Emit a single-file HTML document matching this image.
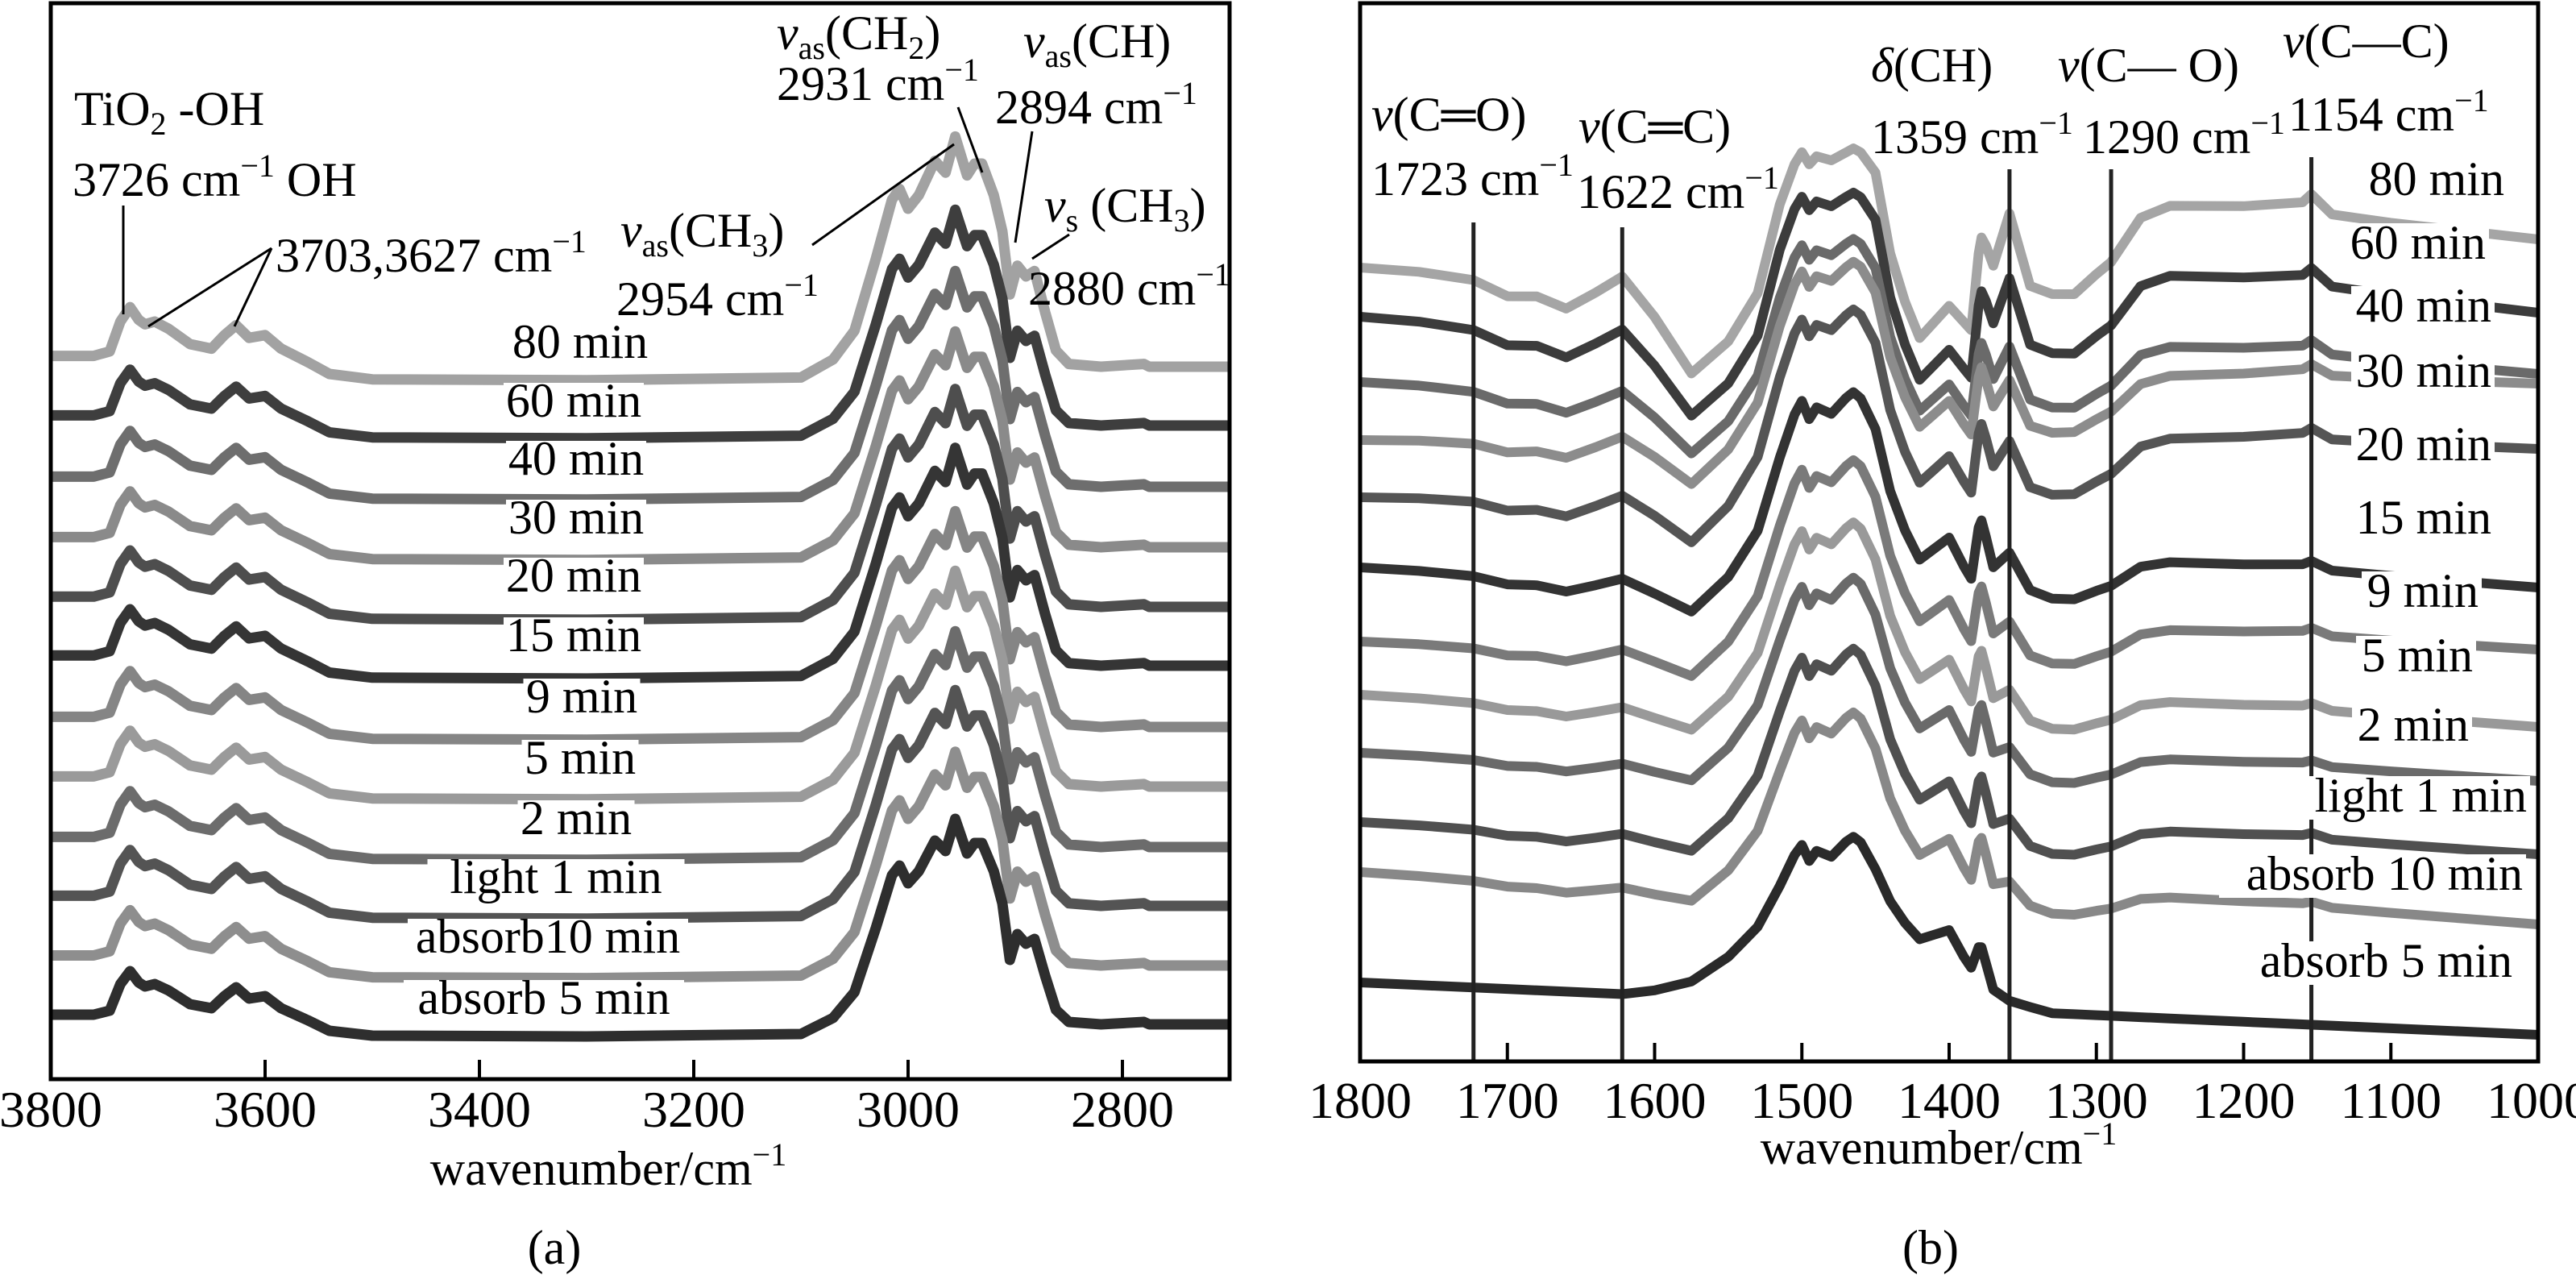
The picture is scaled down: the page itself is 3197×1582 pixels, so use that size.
<!DOCTYPE html>
<html><head><meta charset="utf-8"><style>
html,body{margin:0;padding:0;background:#fff;font-family:"Liberation Serif","DejaVu Serif",serif;}
svg{display:block;}
svg text, svg tspan{font-family:"Liberation Serif","DejaVu Serif",serif !important;fill:#000;}
</style></head><body>
<svg id="fig" xmlns="http://www.w3.org/2000/svg" width="3197" height="1582" viewBox="0 0 3197 1582">
<rect width="3197" height="1582" fill="#fff"/>
<g id="pa"></g>
<g id="pb"></g>
</svg>
<script>
// ---------- Panel A data ----------
const aSeries = ["80 min","60 min","40 min","30 min","20 min","15 min","9 min","5 min","2 min","light 1 min","absorb10 min","absorb 5 min"];
const aBaseline = [455,528,604,679,753,826,902,976,1051,1124,1198,1271];
const aScale = [1.12,1.05,1.05,1.05,1.06,1.06,1.05,1.05,1.05,1.05,1.04,1.0];
const aColors = ["#a2a2a2","#3e3e3e","#6e6e6e","#8a8a8a","#4e4e4e","#353535","#858585","#9a9a9a","#6c6c6c","#545454","#8e8e8e","#2e2e2e"];
const aWave = [3800,3760,3745,3735,3726,3718,3712,3703,3690,3670,3650,3638,3627,3615,3600,3585,3560,3540,3500,3300,3100,3070,3050,3030,3015,3008,3000,2990,2975,2965,2956,2945,2938,2931,2920,2912,2905,2898,2890,2882,2872,2862,2850,2820,2780,2775,2700];
const aShape = [12,12,17,50,66,52,47,50,42,25,20,35,46,32,35,20,5,-8,-14,-15,-12,8,40,120,185,197,175,190,228,215,255,212,225,225,190,150,80,112,100,106,60,18,3,0,3,0,0];
const aTicks = [3800,3600,3400,3200,3000,2800];
const aLabelY = [444,517,589,662,734,808,884,960,1035,1108,1182,1258];
const aLabelX = [720,712,715,715,712,712,722,720,715,690,680,675];

// ---------- Panel B data ----------
const bSeries = ["80 min","60 min","40 min","30 min","20 min","15 min","9 min","5 min","2 min","light 1 min","absorb 10 min","absorb 5 min"];
const bBaseline = [332,393,474,546,617,704,796,862,934,1020,1082,1219];
const bBandAmp = [1.0,1.1,1.2,1.3,1.4,1.5,1.5,1.5,1.5,1.5,1.45,1.3];
const bSideAmp = [1.0,0.9,0.7,0.6,0.6,0.45,0.4,0.35,0.3,0.3,0.25,0];
const bDrift = [-5,-31,-18,46,36,-43,-26,-54,-47,-52,-75,-65];
const bColors = ["#a5a5a5","#3c3c3c","#6a6a6a","#8c8c8c","#555555","#333333","#7a7a7a","#999999","#6a6a6a","#505050","#888888","#2a2a2a"];
const bWave = [1800,1760,1723,1700,1680,1660,1640,1622,1600,1575,1550,1530,1515,1505,1500,1495,1490,1480,1470,1465,1460,1450,1440,1430,1420,1410,1400,1390,1385,1380,1378,1375,1370,1359,1345,1330,1315,1300,1290,1270,1250,1200,1160,1154,1140,1100,1050,1000];
const bBand = [0,0,0,0,0,0,0,0,5,15,40,70,110,140,150,135,145,140,155,160,155,130,100,80,65,70,75,50,40,60,60,45,20,10,5,0,0,0,0,0,0,0,0,0,0,0,0,0];
const bSide = [0,-5,-15,-35,-35,-50,-30,-10,-65,-145,-130,-100,-30,-10,-5,-5,-5,-5,-10,-10,-10,-10,-80,-120,-150,-135,-120,-115,-115,-40,-20,-15,-15,60,-25,-30,-30,-5,10,65,80,80,85,95,70,60,50,40];
const bTicks = [1800,1700,1600,1500,1400,1300,1200,1100,1000];
const bMarkers = [1723,1622,1359,1290,1154];
const bMarkerTop = [276,282,210,210,195];
const bLabelX = [3108,3085,3092,3092,3092,3092,3076,3069,3064,3136,3131,3118];
const bLabelY = [242,321,399,480,571,662,753,833,919,1007,1104,1212];

const NS = "http://www.w3.org/2000/svg";
const FF = '"Liberation Serif", "DejaVu Serif", serif';
function mk(tag, attrs, parent){
  const e = document.createElementNS(NS, tag);
  for (const k in attrs) e.setAttribute(k, attrs[k]);
  parent.appendChild(e);
  return e;
}
const ax = w => 63 + (3800 - w) * 1463 / 1100;
const bx = w => 1688 + (1800 - w) * 1462 / 800;

const pa = document.getElementById('pa');
const pb = document.getElementById('pb');

aSeries.forEach((name, i) => {
  let d = '';
  aWave.forEach((w, j) => {
    const y = aBaseline[i] - aScale[i] * aShape[j];
    d += (j ? 'L' : 'M') + ax(w).toFixed(1) + ' ' + y.toFixed(1);
  });
  const p = mk('path', {d: d, fill: 'none', stroke: aColors[i], 'stroke-width': 13, 'stroke-linejoin': 'round'}, pa);
  
  
});
aSeries.forEach((name, i) => {
  const w = name.length * 29;
  const r = mk('rect', {x: aLabelX[i] - w / 2, y: aLabelY[i] - 42, width: w, height: 50, fill: '#fff'}, pa);
  
  
  const t = mk('text', {x: aLabelX[i], y: aLabelY[i], 'font-size': 60, 'text-anchor': 'middle', 'font-family': FF}, pa);
  t.textContent = name;
  
  
});
const fa = mk('rect', {x: 63, y: 4, width: 1463, height: 1335, fill: 'none', stroke: '#000', 'stroke-width': 5}, pa);


aTicks.forEach(v => {
  const x = ax(v);
  if (v !== 3800) {
    const tk = mk('line', {x1: x, x2: x, y1: 1339, y2: 1315, stroke: '#000', 'stroke-width': 4}, pa);
    
    
  }
  const tl = mk('text', {x: x, y: 1398, 'font-size': 64, 'text-anchor': 'middle', 'font-family': FF}, pa);
  tl.textContent = v;
  
  
});

bSeries.forEach((name, i) => {
  let d = '';
  bWave.forEach((w, j) => {
    const up = bBandAmp[i] * bBand[j] + bSideAmp[i] * bSide[j] + bDrift[i] * (1800 - w) / 800;
    const y = bBaseline[i] - up;
    d += (j ? 'L' : 'M') + bx(w).toFixed(1) + ' ' + y.toFixed(1);
  });
  const p = mk('path', {d: d, fill: 'none', stroke: bColors[i], 'stroke-width': 12, 'stroke-linejoin': 'round'}, pb);
  
  
});
bMarkers.forEach((v, i) => {
  const l = mk('line', {x1: bx(v), x2: bx(v), y1: bMarkerTop[i], y2: 1317, stroke: '#222', 'stroke-width': 5}, pb);
  
  
});
bSeries.forEach((name, i) => {
  const w = name.length * 29;
  const r = mk('rect', {x: bLabelX[i] - w, y: bLabelY[i] - 44, width: w + 4, height: 54, fill: '#fff'}, pb);
  
  
  const t = mk('text', {x: bLabelX[i], y: bLabelY[i], 'font-size': 60, 'text-anchor': 'end', 'font-family': FF}, pb);
  t.textContent = name;
  
  
});
const fb = mk('rect', {x: 1688, y: 4, width: 1462, height: 1313, fill: 'none', stroke: '#000', 'stroke-width': 5}, pb);


bTicks.forEach(v => {
  const x = bx(v);
  if (v !== 1800 && v !== 1000) {
    const tk = mk('line', {x1: x, x2: x, y1: 1317, y2: 1294, stroke: '#000', 'stroke-width': 4}, pb);
    
    
  }
  const tl = mk('text', {x: x, y: 1387, 'font-size': 64, 'text-anchor': 'middle', 'font-family': FF}, pb);
  tl.textContent = v;
  
  
});

const fig = document.getElementById('fig');
const ann = document.createElementNS(NS, 'g');


ann.setAttribute('font-family', FF);
ann.innerHTML = `
<g font-size="60">
<text x="92" y="155">TiO<tspan font-size="40" dy="12">2</tspan><tspan dy="-12"> -OH</tspan></text>
<text x="90" y="243">3726 cm<tspan font-size="40" dy="-24">−1</tspan><tspan dy="24"> OH</tspan></text>
<line x1="153" y1="255" x2="153" y2="390" stroke="#000" stroke-width="3"/>
<text x="342" y="337">3703,3627 cm<tspan font-size="40" dy="-24">−1</tspan></text>
<line x1="337" y1="308" x2="184" y2="405" stroke="#000" stroke-width="3"/>
<line x1="337" y1="308" x2="291" y2="405" stroke="#000" stroke-width="3"/>
<text x="770" y="306"><tspan font-style="italic">ν</tspan><tspan font-size="40" dy="12">as</tspan><tspan dy="-12">(CH</tspan><tspan font-size="40" dy="12">3</tspan><tspan dy="-12">)</tspan></text>
<text x="765" y="391">2954 cm<tspan font-size="40" dy="-24">−1</tspan></text>
<line x1="1008" y1="304" x2="1184" y2="179" stroke="#000" stroke-width="3"/>
<text x="964" y="61"><tspan font-style="italic">ν</tspan><tspan font-size="40" dy="12">as</tspan><tspan dy="-12">(CH</tspan><tspan font-size="40" dy="12">2</tspan><tspan dy="-12">)</tspan></text>
<text x="964" y="124">2931 cm<tspan font-size="40" dy="-24">−1</tspan></text>
<line x1="1189" y1="133" x2="1219" y2="214" stroke="#000" stroke-width="3"/>
<text x="1270" y="71"><tspan font-style="italic">ν</tspan><tspan font-size="40" dy="12">as</tspan><tspan dy="-12">(CH)</tspan></text>
<text x="1235" y="153">2894 cm<tspan font-size="40" dy="-24">−1</tspan></text>
<line x1="1281" y1="163" x2="1260" y2="301" stroke="#000" stroke-width="3"/>
<text x="1296" y="275"><tspan font-style="italic">ν</tspan><tspan font-size="40" dy="12">s</tspan><tspan dy="-12"> (CH</tspan><tspan font-size="40" dy="12">3</tspan><tspan dy="-12">)</tspan></text>
<text x="1276" y="378">2880 cm<tspan font-size="40" dy="-24">−1</tspan></text>
<line x1="1327" y1="291" x2="1281" y2="321" stroke="#000" stroke-width="3"/>
<text x="755" y="1470" text-anchor="middle">wavenumber/cm<tspan font-size="40" dy="-24">−1</tspan></text>
<text x="688" y="1568" text-anchor="middle">(a)</text>
</g>
<g font-size="60">
<text x="1702" y="162"><tspan font-style="italic">ν</tspan>(C═O)</text>
<text x="1702" y="242">1723 cm<tspan font-size="40" dy="-24">−1</tspan></text>
<text x="1959" y="177"><tspan font-style="italic">ν</tspan>(C═C)</text>
<text x="1957" y="258">1622 cm<tspan font-size="40" dy="-24">−1</tspan></text>
<text x="2322" y="101"><tspan font-style="italic">δ</tspan>(CH)</text>
<text x="2322" y="190">1359 cm<tspan font-size="40" dy="-24">−1</tspan></text>
<text x="2554" y="101"><tspan font-style="italic">ν</tspan>(C— O)</text>
<text x="2585" y="190">1290 cm<tspan font-size="40" dy="-24">−1</tspan></text>
<text x="2833" y="71"><tspan font-style="italic">ν</tspan>(C—C)</text>
<text x="2840" y="162">1154 cm<tspan font-size="40" dy="-24">−1</tspan></text>
<text x="2406" y="1444" text-anchor="middle">wavenumber/cm<tspan font-size="40" dy="-24">−1</tspan></text>
<text x="2396" y="1568" text-anchor="middle">(b)</text>
</g>`;
fig.appendChild(ann);
</script>
</body></html>
